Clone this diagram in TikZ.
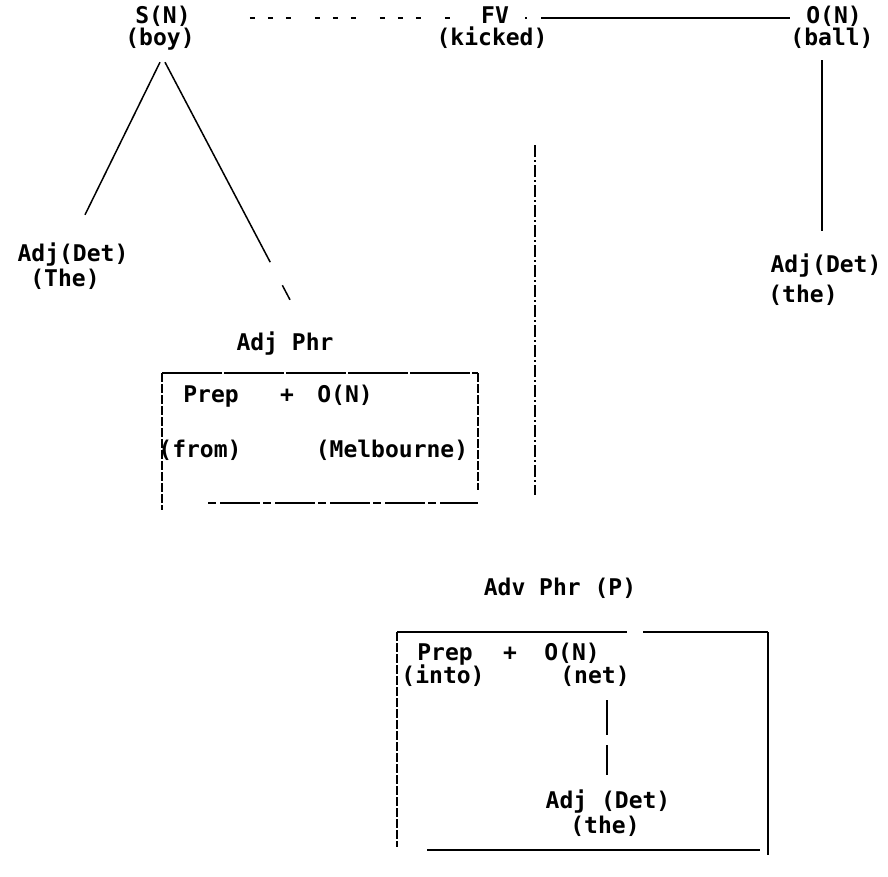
\documentclass[tikz,border=0pt]{standalone}
\usepackage{fontspec}
\setmonofont{DejaVu Sans Mono}
\begin{document}
\begin{tikzpicture}[x=1pt,y=-1pt,
  txt/.style={font=\ttfamily\bfseries\fontsize{23}{23}\selectfont, inner sep=0pt, text height=16pt, text depth=5pt},
  ln/.style={line width=1.5pt, black},
  dotline/.style={ln, dash pattern=on 5pt off 13pt on 5pt off 13pt on 5pt off 24pt},
  boxedge/.style={ln, dash pattern=on 9pt off 2pt},
  dashdot/.style={ln, line width=1.2pt, dash pattern=on 12pt off 3pt on 2pt off 3pt}]
\useasboundingbox (0,0) rectangle (888,876);
\fill[white] (0,0) rectangle (888,876);

% top row
\node[txt] (sn) at (163,18) {S(N)};
\node[txt] (boy) at (160,40) {(boy)};
\node[txt] (fv) at (495,18) {FV};
\node[txt] (kicked) at (492,40) {(kicked)};
\node[txt] (on1) at (834,18) {O(N)};
\node[txt] (ball) at (832,40) {(ball)};

% subject branch
\node[txt] (adj1) at (73,256) {Adj(Det)};
\node[txt] (the1) at (65,281) {(The)};
\node[txt] (adjphr) at (285,345) {Adj Phr};
\node[txt] (prep1) at (211,397) {Prep};
\node[txt] (plus1) at (287,397) {+};
\node[txt] (on2) at (345,397) {O(N)};
\node[txt] (from) at (200,452) {(from)};
\node[txt] (melb) at (392,452) {(Melbourne)};

% object branch
\node[txt] (adj2) at (826,267) {Adj(Det)};
\node[txt] (the2) at (803,297) {(the)};

% adverbial phrase
\node[txt] (advphr) at (560,590) {Adv Phr (P)};
\node[txt] (prep2) at (445,655) {Prep};
\node[txt] (plus2) at (510,655) {+};
\node[txt] (on3) at (572,655) {O(N)};
\node[txt] (into) at (443,678) {(into)};
\node[txt] (net) at (595,678) {(net)};
\node[txt] (adj3) at (608,803) {Adj (Det)};
\node[txt] (the3) at (605,828) {(the)};

% connectors
\draw[dotline] ([xshift=59pt]sn.east) -- ([xshift=-21pt]fv.west);
\draw[ln, dash pattern=on 2pt off 14pt on 400pt] ([xshift=16pt]fv.east) -- ([xshift=-16pt]on1.west);
\draw[ln] ([xshift=-10pt,yshift=-9.5pt]ball.south) -- ([xshift=-4pt,yshift=25.5pt]adj2.north);
\draw[ln] ([yshift=-11.5pt]boy.south) -- ([xshift=12pt,yshift=30.5pt]adj1.north);
\draw[ln, dash pattern=on 226pt off 26pt on 30pt] ([xshift=5pt,yshift=-11.5pt]boy.south) -- ([xshift=5pt,yshift=34.5pt]adjphr.north);
\draw[dashdot] ([xshift=43pt,yshift=-94.5pt]kicked.south) -- ([xshift=-25pt,yshift=84.5pt]advphr.north);
\draw[ln, dash pattern=on 35pt off 10pt on 60pt] ([xshift=12pt,yshift=-11.5pt]net.south) -- ([xshift=-1pt,yshift=17pt]adj3.north);

% box 1 (Adj Phr)
\coordinate (b1tl) at (162,373);
\coordinate (b1tr) at (478,373);
\coordinate (b1bl) at (162,510);
\coordinate (b1br) at (478,503);
\draw[ln, dash pattern=on 60pt off 2pt] (b1tl) -- (b1tr);
\draw[boxedge] (b1tl) -- (b1bl);
\draw[boxedge] (b1tr) -- (478,490);
\draw[ln, dash pattern=on 8pt off 4pt on 40pt off 3pt] (208,503) -- (b1br);

% box 2 (Adv Phr)
\coordinate (b2tl) at (397,632);
\coordinate (b2tr) at (768,632);
\coordinate (b2bl) at (397,847);
\coordinate (b2br) at (768,855);
\draw[ln] (b2tl) -- (627,632);
\draw[ln] (643,632) -- (b2tr);
\draw[boxedge] (b2tl) -- (b2bl);
\draw[ln] (b2tr) -- (b2br);
\draw[ln] (427,850) -- (760,850);
\end{tikzpicture}
\end{document}
